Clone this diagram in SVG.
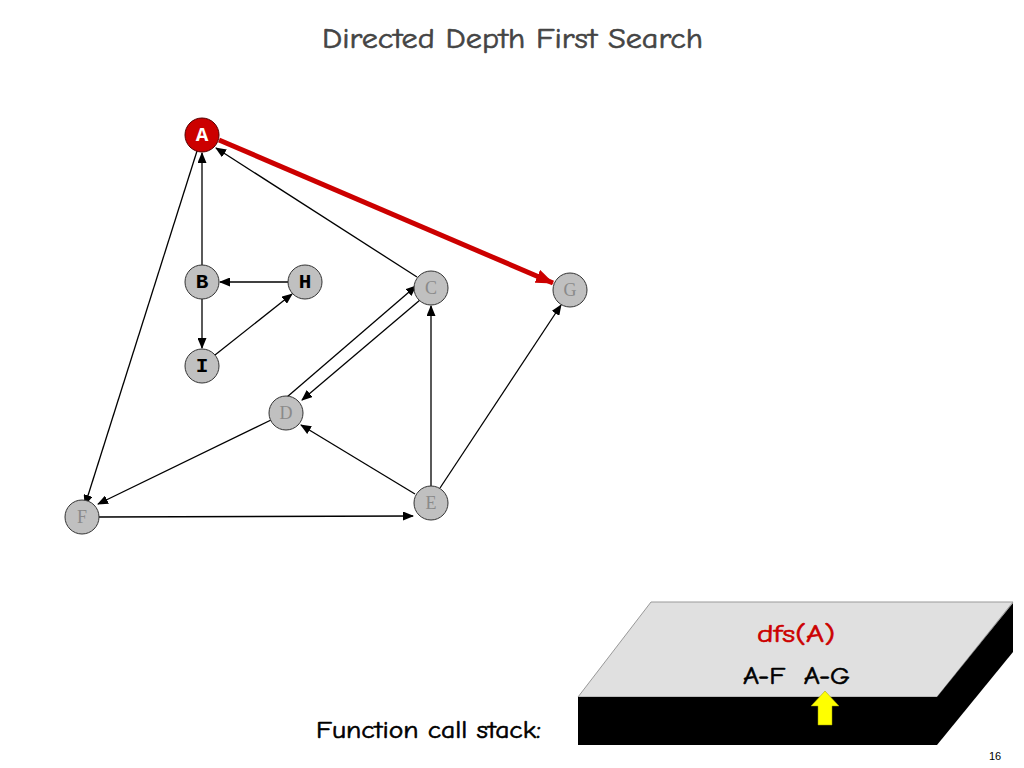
<svg xmlns="http://www.w3.org/2000/svg" width="1024" height="768" viewBox="0 0 1024 768">
<defs>
<marker id="ah" markerWidth="11" markerHeight="9" refX="10" refY="4.5" orient="auto" markerUnits="userSpaceOnUse">
<path d="M0,0 L11,4.5 L0,9 Z" fill="#000"/>
</marker>
<marker id="ahr" markerWidth="18" markerHeight="14" refX="17" refY="7" orient="auto" markerUnits="userSpaceOnUse">
<path d="M0,0 L18,7 L0,14 Z" fill="#cc0000"/>
</marker>
<style>
.e{stroke:#000;stroke-width:1.3;fill:none;marker-end:url(#ah)}
.n{fill:#c0c0c0;stroke:#333;stroke-width:1}
.bl{font-family:"Liberation Mono",monospace;font-weight:bold;font-size:21px;fill:#000;text-anchor:middle}
.gl{font-family:"Liberation Serif",serif;font-size:18px;fill:#8a8a8a;text-anchor:middle}
.t{font-family:"Comic Neue","Liberation Sans",sans-serif;font-weight:normal;stroke-width:0.6}
</style>
</defs>
<rect width="1024" height="768" fill="#fff"/>
<text x="322" y="48" class="t" font-size="29" fill="#444" stroke="#444" textLength="381" lengthAdjust="spacingAndGlyphs">Directed Depth First Search</text>
<g id="connectors">
<line class="e" x1="197" y1="151" x2="85" y2="505"/>
<line class="e" x1="202" y1="265" x2="202" y2="153"/>
<line class="e" x1="288" y1="282" x2="220" y2="282"/>
<line class="e" x1="202" y1="299" x2="202" y2="348"/>
<line class="e" x1="215" y1="355" x2="292" y2="294"/>
<line class="e" x1="417" y1="277" x2="216" y2="148"/>
<line class="e" x1="287" y1="397" x2="416" y2="286"/>
<line class="e" x1="420" y1="300" x2="302" y2="400"/>
<line class="e" x1="271" y1="420" x2="98" y2="504"/>
<line class="e" x1="415" y1="494" x2="301" y2="425"/>
<line class="e" x1="431" y1="486" x2="431" y2="306"/>
<line class="e" x1="440" y1="488" x2="561" y2="305"/>
<line class="e" x1="99" y1="517" x2="413" y2="516"/>
<line x1="219" y1="140" x2="553" y2="283" stroke="#cc0000" stroke-width="5" marker-end="url(#ahr)"/>
</g>
<g id="node-A"><circle cx="202" cy="135" r="17" fill="#cc0000" stroke="#550000" stroke-width="1"/><text x="202" y="141" class="bl" style="fill:#fff">A</text></g>
<g id="node-B"><circle class="n" cx="202" cy="282" r="17"/><text x="202" y="288" class="bl">B</text></g>
<g id="node-H"><circle class="n" cx="305" cy="282" r="17"/><text x="305" y="288" class="bl">H</text></g>
<g id="node-I"><circle class="n" cx="202" cy="366" r="17"/><text x="202" y="372" class="bl">I</text></g>
<g id="node-C"><circle class="n" cx="431" cy="288" r="17"/><text x="431" y="294" class="gl">C</text></g>
<g id="node-G"><circle class="n" cx="570" cy="290" r="17"/><text x="570" y="296" class="gl">G</text></g>
<g id="node-D"><circle class="n" cx="286" cy="413" r="17"/><text x="286" y="419" class="gl">D</text></g>
<g id="node-E"><circle class="n" cx="431" cy="503" r="17"/><text x="431" y="509" class="gl">E</text></g>
<g id="node-F"><circle class="n" cx="82" cy="517" r="17"/><text x="82" y="523" class="gl">F</text></g>
<g id="stack">
<polygon points="651,602 1013,602 937,697 578,697" fill="#e0e0e0" stroke="#999" stroke-width="1"/>
<polygon points="578,697 937,697 937,745 578,745" fill="#000"/>
<polygon points="937,697 1013,603 1013,652 937,745" fill="#000"/>
<text x="757" y="642" class="t" font-size="25" fill="#cc0000" stroke="#cc0000" textLength="78" lengthAdjust="spacingAndGlyphs">dfs(A)</text>
<text x="743" y="684" class="t" font-size="25" fill="#000" stroke="#000" textLength="107" lengthAdjust="spacingAndGlyphs" xml:space="preserve">A-F  A-G</text>
<polygon points="825,691 839,706 832,706 832,725 818,725 818,706 811,706" fill="#ffff00" stroke="#999900" stroke-width="0.5"/>
</g>
<text x="316" y="738" class="t" font-size="25" fill="#000" stroke="#000" textLength="225" lengthAdjust="spacingAndGlyphs">Function call stack:</text>
<text x="995" y="760" font-family="Liberation Sans,sans-serif" font-size="11" fill="#000" text-anchor="middle">16</text>
</svg>
